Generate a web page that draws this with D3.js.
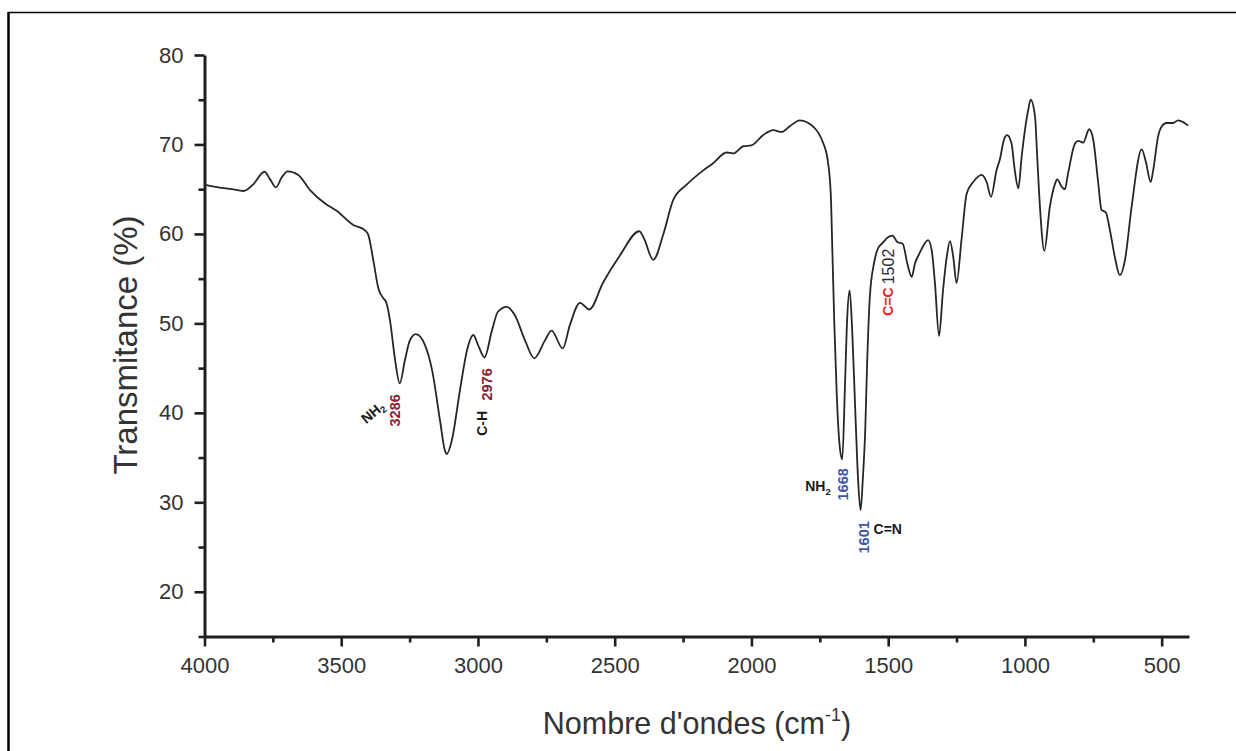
<!DOCTYPE html>
<html>
<head>
<meta charset="utf-8">
<script src="https://cdn.jsdelivr.net/npm/d3@7"></script>
<style>
  body { margin: 0; background: #fff; }
  svg { display: block; }
  text { font-family: "Liberation Sans", Arial, sans-serif; }
</style>
</head>
<body>
<svg id="chart" width="1236" height="751"></svg>
<script>
// FT-IR spectrum: wavenumber (cm-1) and transmittance (%)
const wavenumbers = [
  4000, 3950, 3900, 3858, 3820, 3781, 3760, 3739, 3718, 3696, 3657, 3614, 3559, 3517,
  3456, 3413, 3401, 3383, 3364, 3346, 3336, 3322, 3303, 3286, 3267, 3249, 3227, 3194,
  3168, 3139, 3121, 3114, 3095, 3066, 3040, 3017, 3000, 2976, 2949, 2927, 2895, 2865,
  2828, 2794, 2755, 2731, 2690, 2664, 2627, 2593, 2542, 2481, 2410, 2393, 2359, 2322,
  2286, 2237, 2176, 2140, 2091, 2067, 2030, 2000, 1957, 1920, 1890, 1859, 1823, 1774,
  1737, 1723, 1710, 1704, 1697, 1688, 1678, 1668, 1658, 1650, 1641, 1632, 1620, 1610,
  1601, 1592, 1584, 1577, 1567, 1552, 1537, 1520, 1502, 1484, 1467, 1447, 1430, 1414,
  1402, 1386, 1378, 1354, 1341, 1329, 1314, 1300, 1286, 1274, 1262, 1250, 1232, 1213,
  1189, 1158, 1140, 1124, 1104, 1091, 1077, 1065, 1049, 1037, 1024, 1012, 1000, 988,
  979, 963, 955, 945, 929, 909, 890, 882, 866, 854, 842, 817, 805, 787, 765, 750, 732,
  720, 704, 689, 671, 653, 634, 610, 573, 558, 540, 531, 513, 500, 482, 458, 440, 421, 403
];
const transmittance = [
  65.5, 65.2, 65.0, 64.8, 65.6, 66.95, 66.1, 65.2, 66.3, 67.0, 66.6, 64.9, 63.4, 62.6,
  61.0, 60.4, 59.9, 57.1, 53.9, 52.8, 52.4, 50.4, 45.9, 43.3, 45.9, 48.1, 48.8, 47.6,
  44.8, 39.2, 35.8, 35.4, 37.0, 42.5, 47.0, 48.7, 47.6, 46.2, 49.2, 51.3, 51.85, 50.9,
  48.1, 46.1, 48.1, 49.2, 47.2, 49.8, 52.3, 51.55, 54.6, 57.6, 60.3, 59.5, 57.1, 60.0,
  63.8, 65.5, 67.1, 67.9, 69.1, 69.0, 69.8, 69.9, 71.05, 71.6, 71.4, 72.06, 72.7, 72.0,
  70.1, 68.6, 64.5, 58.0, 50.0, 42.0, 36.5, 34.8, 43.0, 50.5, 53.7, 49.5, 40.0, 32.5,
  29.1, 33.0, 38.0, 45.5, 53.0, 56.7, 58.4, 59.0, 59.6, 59.8, 59.1, 58.9, 56.7, 55.2,
  56.7, 57.8, 58.3, 59.3, 58.2, 54.5, 48.6, 53.5, 57.4, 59.2, 57.4, 54.5, 59.3, 64.5,
  65.8, 66.6, 65.8, 64.15, 67.1, 68.4, 70.5, 71.05, 70.1, 67.1, 65.1, 68.6, 71.6, 73.85,
  75.0, 73.1, 68.6, 63.0, 58.1, 63.0, 65.6, 66.1, 65.3, 65.0, 66.8, 70.1, 70.4, 70.2, 71.7, 70.5, 65.7,
  62.7, 62.4, 60.4, 57.4, 55.4, 57.1, 63.0, 69.45, 68.1, 65.8, 67.1, 70.9, 72.0, 72.4, 72.4, 72.7, 72.5, 72.1
];

// Axis ticks
const xMajorTicks = [4000, 3500, 3000, 2500, 2000, 1500, 1000, 500];
const xMinorTicks = [3750, 3250, 2750, 2250, 1750, 1250, 750];
const yMajorTicks = [20, 30, 40, 50, 60, 70, 80];
const yMinorTicks = [15, 25, 35, 45, 55, 65, 75];

// Assigned bands
const bandWavenumbers = [3286, 2976, 1668, 1601, 1502];
const bandGroups = ["NH2", "C-H", "NH2", "C=N", "C=C"];

const svg = d3.select("#chart");

const x = d3.scaleLinear().domain([4000, 400]).range([204.5, 1189]);
const y = d3.scaleLinear().domain([15, 80]).range([636.5, 55]);

// page frame
svg.append("line").attr("x1", 8).attr("x2", 1236).attr("y1", 12.5).attr("y2", 12.5)
  .attr("stroke", "#000").attr("stroke-width", 1.5);
svg.append("line").attr("x1", 8.5).attr("x2", 8.5).attr("y1", 12).attr("y2", 751)
  .attr("stroke", "#000").attr("stroke-width", 2.5);

const axisColor = "#1e1e1e";
const labelColor = "#333";

function styleAxis(g, fontSize) {
  g.selectAll(".domain").attr("stroke", axisColor).attr("stroke-width", 3);
  g.selectAll(".tick line").attr("stroke", axisColor).attr("stroke-width", 2.6);
  g.selectAll("text").attr("fill", labelColor).attr("font-size", fontSize)
    .attr("font-family", "'Liberation Sans', Arial, sans-serif");
}

// x axis
const gx = svg.append("g").attr("transform", `translate(0,${y(15)})`);
gx.call(d3.axisBottom(x).tickValues(xMajorTicks).tickSize(10).tickSizeOuter(0)
  .tickPadding(11).tickFormat(d3.format("d")));
styleAxis(gx, 22);
const gxm = svg.append("g").attr("transform", `translate(0,${y(15)})`);
gxm.call(d3.axisBottom(x).tickValues(xMinorTicks).tickSize(6).tickSizeOuter(0).tickFormat(""));
styleAxis(gxm, 22);
gxm.select(".domain").remove();

// y axis
const gy = svg.append("g").attr("transform", `translate(${x(4000)},0)`);
gy.call(d3.axisLeft(y).tickValues(yMajorTicks).tickSize(10).tickSizeOuter(0)
  .tickPadding(11).tickFormat(d3.format("d")));
styleAxis(gy, 22);
const gym = svg.append("g").attr("transform", `translate(${x(4000)},0)`);
gym.call(d3.axisLeft(y).tickValues(yMinorTicks).tickSize(6).tickSizeOuter(0).tickFormat(""));
styleAxis(gym, 22);
gym.select(".domain").remove();

// axis titles
const xt = svg.append("text").attr("x", 697).attr("y", 734)
  .attr("text-anchor", "middle").attr("font-size", 30.5).attr("fill", labelColor);
xt.append("tspan").text("Nombre d'ondes (cm");
xt.append("tspan").attr("dy", -13).attr("font-size", 18).text("-1");
xt.append("tspan").attr("dy", 13).text(")");

svg.append("text")
  .attr("transform", "translate(137,345) rotate(-90)")
  .attr("text-anchor", "middle").attr("font-size", 33).attr("fill", labelColor)
  .text("Transmitance (%)");

// spectrum
const spectrum = wavenumbers.map((w, i) => [w, transmittance[i]]);
const line = d3.line().x(d => x(d[0])).y(d => y(d[1])).curve(d3.curveMonotoneX);
svg.append("path").datum(spectrum).attr("d", line)
  .attr("fill", "none").attr("stroke", "#262626").attr("stroke-width", 1.8)
  .attr("stroke-linejoin", "round");

// band annotations
const valueAt = w => transmittance[wavenumbers.indexOf(w)];
const maroon = "#8b2136", blue = "#3f56a6", red = "#f2202a", ink = "#1a1a1a";

function rotLabel(w, dx, dy, text, color, size, weight, angle) {
  const px = x(w) + dx, py = y(valueAt(w)) + dy;
  return svg.append("text")
    .attr("transform", `translate(${px},${py}) rotate(${angle})`)
    .attr("text-anchor", "middle").attr("dominant-baseline", "central")
    .attr("font-size", size).attr("font-weight", weight).attr("fill", color)
    .text(text);
}
function groupLabel(t, name) {
  if (name === "NH2") {
    t.text("NH");
    t.append("tspan").attr("font-size", 9.5).attr("dy", 4).text("2");
  } else {
    t.text(name);
  }
}

// 3286 : NH2
rotLabel(bandWavenumbers[0], -5, 27, String(bandWavenumbers[0]), maroon, 14.5, "bold", -90);
groupLabel(rotLabel(bandWavenumbers[0], -27, 29, "", ink, 14, "bold", -40), bandGroups[0]);

// 2976 : C-H
rotLabel(bandWavenumbers[1], 2, 27, String(bandWavenumbers[1]), maroon, 14.5, "bold", -90);
rotLabel(bandWavenumbers[1], -3, 66, bandGroups[1], ink, 14, "bold", -90);

// 1668 : NH2
rotLabel(bandWavenumbers[2], 1, 25, String(bandWavenumbers[2]), blue, 14.5, "bold", -90);
groupLabel(svg.append("text").attr("x", x(bandWavenumbers[2]) - 37)
  .attr("y", y(valueAt(bandWavenumbers[2])) + 32)
  .attr("font-size", 14).attr("font-weight", "bold").attr("fill", ink), bandGroups[2]);

// 1601 : C=N
rotLabel(bandWavenumbers[3], 3, 27, String(bandWavenumbers[3]), blue, 14.5, "bold", -90);
svg.append("text").attr("x", x(bandWavenumbers[3]) + 13)
  .attr("y", y(valueAt(bandWavenumbers[3])) + 24)
  .attr("font-size", 14).attr("font-weight", "bold").attr("fill", ink).text(bandGroups[3]);

// 1502 : C=C
rotLabel(bandWavenumbers[4], 0, 64, bandGroups[4], red, 14, "bold", -90);
rotLabel(bandWavenumbers[4], 1, 29, String(bandWavenumbers[4]), "#2b2b2b", 16, "normal", -90);
</script>
</body>
</html>
